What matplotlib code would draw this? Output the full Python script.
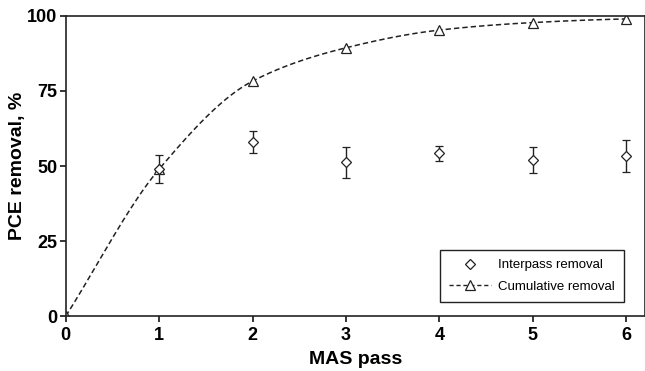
import numpy as np
import matplotlib.pyplot as plt

plt.rcParams['font.family'] = ['Liberation Sans', 'DejaVu Sans']

passes = [1, 2, 3, 4, 5, 6]
interpass = [48.9, 58.0, 51.2, 54.2, 52.0, 53.3]
interpass_err = [4.7, 3.7, 5.1, 2.6, 4.3, 5.3]

cum_passes = [0, 1, 2, 3, 4, 5, 6]
cumulative = [0, 49.0, 78.3, 89.4, 95.3, 97.8, 99.0]


def pchip_curve(x, y, n=40):
    # monotone cubic Hermite, only used to draw the smooth dashed line
    x = np.asarray(x, float); y = np.asarray(y, float)
    h = np.diff(x); d = np.diff(y) / h
    m = np.zeros_like(y)
    for i in range(1, len(x) - 1):
        if d[i - 1] * d[i] > 0:
            w1 = 2 * h[i] + h[i - 1]; w2 = h[i] + 2 * h[i - 1]
            m[i] = (w1 + w2) / (w1 / d[i - 1] + w2 / d[i])
    m[0] = d[0]
    m[-1] = d[-1] * 0.5
    xs, ys = [], []
    for i in range(len(h)):
        t = np.linspace(0, 1, n)
        h00 = 2*t**3 - 3*t**2 + 1; h10 = t**3 - 2*t**2 + t
        h01 = -2*t**3 + 3*t**2; h11 = t**3 - t**2
        xs.append(x[i] + t * h[i])
        ys.append(h00*y[i] + h10*h[i]*m[i] + h01*y[i+1] + h11*h[i]*m[i+1])
    return np.concatenate(xs), np.concatenate(ys)


fig = plt.figure(figsize=(6.45, 3.71), dpi=100)
ax = fig.add_axes([0.102, 0.148, 0.898, 0.809])

cx, cy = pchip_curve(cum_passes, cumulative)
ax.plot(cx, cy, ls=(0, (3.5, 2)), color='#222222', lw=1.1)
ax.plot(cum_passes, cumulative, ls='none', marker='^', ms=7, mfc='white',
        mec='#222222', mew=0.9)

ax.errorbar(passes, interpass, yerr=interpass_err, fmt='D', ms=5, mfc='white',
            mec='#222222', mew=0.9, ecolor='#222222', elinewidth=1.0,
            capsize=3, capthick=1.0)

ax.set_xlim(0, 6.2)
ax.set_ylim(0, 100)
ax.set_xticks(range(0, 7))
ax.set_yticks([0, 25, 50, 75, 100])
for sp in ax.spines.values():
    sp.set_linewidth(1.2)
    sp.set_color('#222222')
ax.tick_params(direction='out', length=4, width=1.1, labelsize=13, pad=2)
ax.tick_params(axis='x', pad=4)
for lab in ax.get_xticklabels() + ax.get_yticklabels():
    lab.set_fontweight('bold')
ax.set_xlabel('MAS pass', fontsize=14, fontweight='bold', labelpad=5)
ax.set_ylabel('PCE removal, %', fontsize=14, fontweight='bold', labelpad=1)

h1 = ax.plot([], [], ls='none', marker='D', ms=5, mfc='white', mec='#222222',
             mew=0.9)[0]
h2 = ax.plot([], [], ls=(0, (3, 2)), color='#222222', lw=1.0, marker='^', ms=7,
             mfc='white', mec='#222222', mew=0.9)[0]
leg = ax.legend([h1, h2], ['Interpass removal', 'Cumulative removal'],
                loc='lower right', bbox_to_anchor=(0.975, 0.025), fontsize=9.5,
                fancybox=False, framealpha=1, edgecolor='#222222',
                handlelength=3.2, handletextpad=0.5, borderpad=0.7,
                labelspacing=0.7)
leg.get_frame().set_linewidth(1.0)

fig.savefig('out.png', dpi=100)
